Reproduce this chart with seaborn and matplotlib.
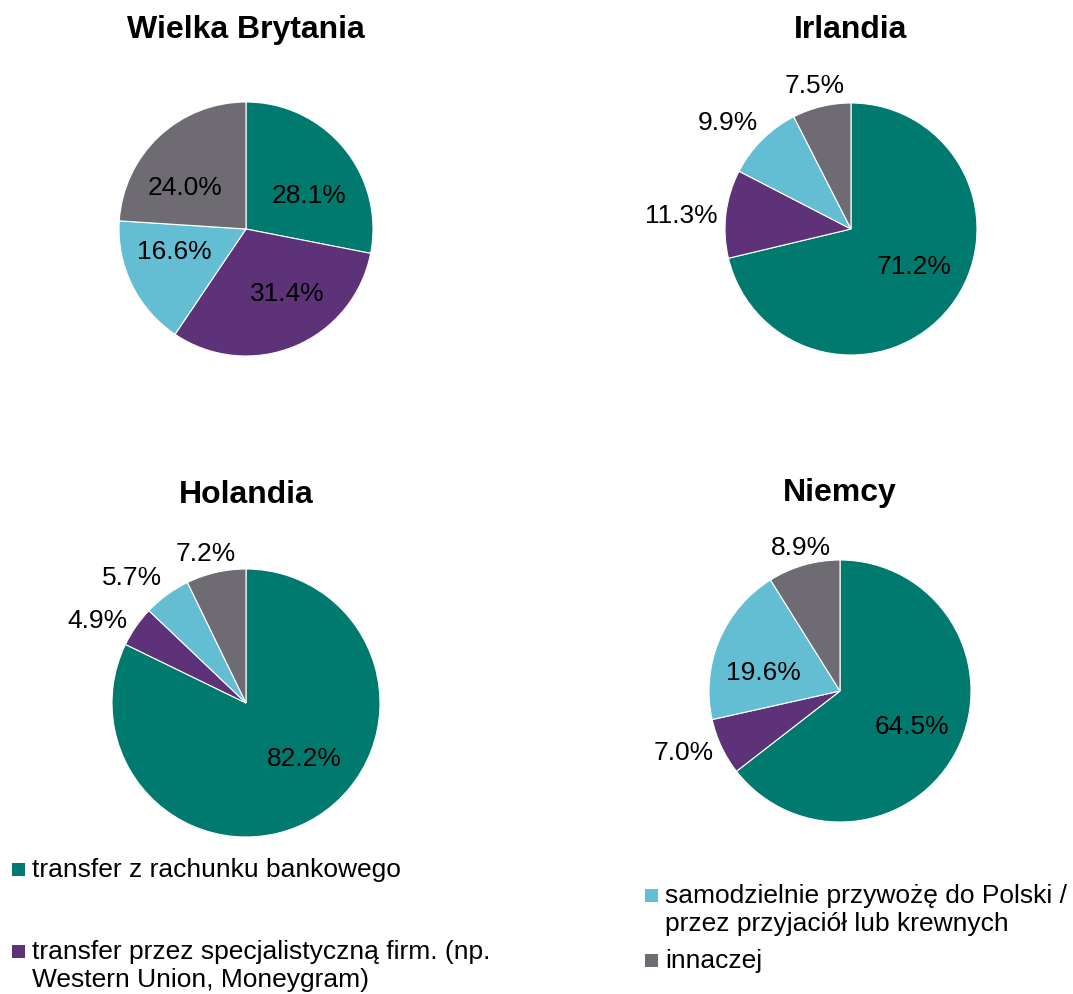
import numpy as np
import matplotlib
matplotlib.use("Agg")
import matplotlib.pyplot as plt
from matplotlib.patches import Rectangle
import seaborn as sns

# ---- data ----
categories = [
    "transfer z rachunku bankowego",
    "transfer przez specjalistyczną firm. (np.\nWestern Union, Moneygram)",
    "samodzielnie przywożę do Polski /\nprzez przyjaciół lub krewnych",
    "innaczej",
]
countries = ["Wielka Brytania", "Irlandia", "Holandia", "Niemcy"]
uk_values = [28.1, 31.4, 16.6, 24.0]
ie_values = [71.2, 11.3, 9.9, 7.5]
nl_values = [82.2, 4.9, 5.7, 7.2]
de_values = [64.5, 7.0, 19.6, 8.9]

colors = ["#007A6E", "#5E3279", "#63BED4", "#6E6C72"]

sns.set_theme(style="white")
plt.rcParams["font.family"] = ["Liberation Sans", "DejaVu Sans"]
palette = sns.color_palette(colors)

W, H = 1073, 994
fig = plt.figure(figsize=(W / 100, H / 100), dpi=100)
fig.patch.set_facecolor("white")

# layout: centre (px), radius (px), title y (px), label distance & angle shift (deg)
layouts = [
    dict(c=(246, 229), r=127, ty=30, dist=[0.571, 0.59, 0.59, 0.59], shift=[-10.5, 10.8, -9.6, 11.4]),
    dict(c=(851, 229), r=126, ty=30, dist=[0.576, 1.354, 1.30, 1.186], shift=[8.5, 1.9, 4.0, 0.5]),
    dict(c=(246, 703), r=134, ty=495, dist=[0.594, 1.273, 1.276, 1.166], shift=[15.3, 5.2, 5.8, 1.8]),
    dict(c=(840, 691), r=131, ty=493, dist=[0.608, 1.277, 0.607, 1.146], shift=[0.8, -4.2, 8.1, -1.0]),
]
all_values = [uk_values, ie_values, nl_values, de_values]

k = 1.7
for name, vals, lay in zip(countries, all_values, layouts):
    cx, cy = lay["c"]
    r = lay["r"]
    half = r * k
    ax = fig.add_axes([(cx - half) / W, 1 - (cy + half) / H, 2 * half / W, 2 * half / H])
    wedges, _ = ax.pie(vals, colors=palette, startangle=90, counterclock=False,
                       radius=1, wedgeprops=dict(edgecolor="white", linewidth=0.8))
    ax.set_xlim(-k, k)
    ax.set_ylim(-k, k)
    ax.set_aspect("equal")
    ax.axis("off")
    for w, v, d, s in zip(wedges, vals, lay["dist"], lay["shift"]):
        ang = np.deg2rad((w.theta1 + w.theta2) / 2 + s)
        ax.text(d * np.cos(ang), d * np.sin(ang) - 2.0 / r, f"{v:.1f}%", ha="center", va="center",
                fontsize=19, color="black", clip_on=False)
    fig.text(cx / W, 1 - lay["ty"] / H, name, ha="center", va="center",
             fontsize=23, fontweight="bold", color="black")

# ---- legend (manual placement) ----
legend_pos = [(12, 869, 32), (12, 951, 32), (645, 895, 665), (645, 960, 665)]
sq = 13
for cat, col, (mx, my, tx) in zip(categories, palette, legend_pos):
    fig.patches.append(Rectangle((mx / W, 1 - (my + sq / 2) / H), sq / W, sq / H,
                                 transform=fig.transFigure, facecolor=col, edgecolor="none"))
    fig.text(tx / W, 1 - (my - 11) / H, cat, ha="left", va="top", fontsize=19,
             color="black", linespacing=1.2)

fig.savefig("out.png", dpi=100, facecolor="white")
